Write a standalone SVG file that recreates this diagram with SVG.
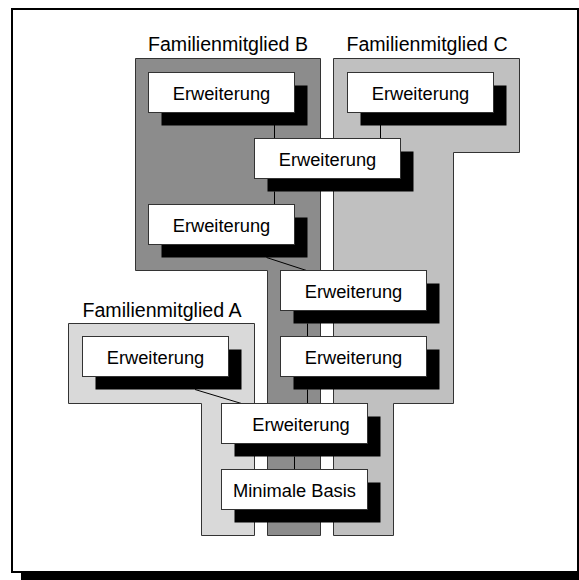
<svg xmlns="http://www.w3.org/2000/svg" width="579" height="580" viewBox="0 0 579 580">
  <defs>
    <style>
      .frame { fill: #ffffff; stroke: #000000; stroke-width: 2; }
      .region { stroke: #333333; stroke-width: 1; }
      .fam-a { fill: #d9d9d9; }
      .fam-b { fill: #8c8c8c; }
      .fam-c { fill: #c0c0c0; }
      .shadow { fill: #000000; }
      .box { fill: #ffffff; stroke: #333333; stroke-width: 1; }
      .label { font-family: "Liberation Sans", Arial, sans-serif; font-size: 19.6px; fill: #000000; text-anchor: middle; }
      .txt { font-family: "Liberation Sans", Arial, sans-serif; font-size: 18.3px; fill: #000000; text-anchor: middle; }
      .conn { fill: none; stroke: #000000; stroke-width: 1; }
    </style>
  </defs>

  <!-- outer frame with drop shadow -->
  <rect x="21" y="572" width="558" height="8" fill="#000000"/>
  <rect class="frame" x="12" y="9" width="566" height="563"/>

  <!-- family member regions -->
  <g id="familienmitglied-b">
    <polygon class="region fam-b" points="135.5,58.5 320.5,58.5 320.5,535.5 267.5,535.5 267.5,270.5 135.5,270.5"/>
    <text class="label" x="228" y="51">Familienmitglied B</text>
  </g>
  <g id="familienmitglied-c">
    <polygon class="region fam-c" points="333.5,58.5 519.5,58.5 519.5,152.5 453.5,152.5 453.5,403.5 393.5,403.5 393.5,535.5 333.5,535.5"/>
    <text class="label" x="427" y="51">Familienmitglied C</text>
  </g>
  <g id="familienmitglied-a">
    <polygon class="region fam-a" points="68.5,323.5 254.5,323.5 254.5,535.5 201.5,535.5 201.5,403.5 68.5,403.5"/>
    <text class="label" x="162" y="316.5">Familienmitglied A</text>
  </g>

  <!-- connectors between extensions -->
  <g id="connectors">
    <line class="conn" x1="274.5" y1="125" x2="274.5" y2="138.5"/>
    <line class="conn" x1="380.5" y1="125" x2="380.5" y2="138.5"/>
    <line class="conn" x1="274.5" y1="191.5" x2="274.5" y2="204.5"/>
    <line class="conn" x1="266.5" y1="257.5" x2="306.5" y2="270.5"/>
    <line class="conn" x1="307.5" y1="323.5" x2="307.5" y2="336.5"/>
    <line class="conn" x1="307.5" y1="389.5" x2="307.5" y2="403.5"/>
    <line class="conn" x1="195" y1="389.5" x2="241.5" y2="403.5"/>
    <line class="conn" x1="294.5" y1="456.5" x2="294.5" y2="469.5"/>
  </g>

  <!-- extension modules -->
  <g id="ext-b1">
    <rect class="shadow" x="161.5" y="85.5" width="146" height="40"/>
    <rect class="box" x="148.5" y="72.5" width="146" height="40"/>
    <text class="txt" x="221.5" y="99.5">Erweiterung</text>
  </g>
  <g id="ext-c1">
    <rect class="shadow" x="360.5" y="85.5" width="146" height="40"/>
    <rect class="box" x="347.5" y="72.5" width="146" height="40"/>
    <text class="txt" x="420.5" y="99.5">Erweiterung</text>
  </g>
  <g id="ext-bc1">
    <rect class="shadow" x="267.5" y="151.5" width="146" height="40"/>
    <rect class="box" x="254.5" y="138.5" width="146" height="40"/>
    <text class="txt" x="327.5" y="165.5">Erweiterung</text>
  </g>
  <g id="ext-b2">
    <rect class="shadow" x="161.5" y="217.5" width="146" height="40"/>
    <rect class="box" x="148.5" y="204.5" width="146" height="40"/>
    <text class="txt" x="221.5" y="231.5">Erweiterung</text>
  </g>
  <g id="ext-bc2">
    <rect class="shadow" x="293.5" y="283.5" width="146" height="40"/>
    <rect class="box" x="280.5" y="270.5" width="146" height="40"/>
    <text class="txt" x="353.5" y="297.5">Erweiterung</text>
  </g>
  <g id="ext-bc3">
    <rect class="shadow" x="293.5" y="349.5" width="146" height="40"/>
    <rect class="box" x="280.5" y="336.5" width="146" height="40"/>
    <text class="txt" x="353.5" y="363.5">Erweiterung</text>
  </g>
  <g id="ext-a1">
    <rect class="shadow" x="95.5" y="349.5" width="146" height="40"/>
    <rect class="box" x="82.5" y="336.5" width="146" height="40"/>
    <text class="txt" x="155.5" y="363.5">Erweiterung</text>
  </g>
  <g id="ext-abc">
    <rect class="shadow" x="234.5" y="416.5" width="146" height="40"/>
    <rect class="box" x="221.5" y="403.5" width="146" height="40"/>
    <text class="txt" x="301" y="430.5">Erweiterung</text>
  </g>
  <g id="minimale-basis">
    <rect class="shadow" x="234.5" y="482.5" width="146" height="40"/>
    <rect class="box" x="221.5" y="469.5" width="146" height="40"/>
    <text class="txt" x="294.5" y="496.5">Minimale Basis</text>
  </g>
</svg>
